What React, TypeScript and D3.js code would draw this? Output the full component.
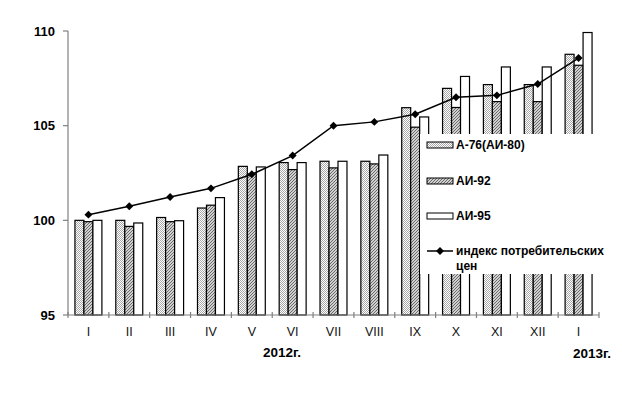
import * as React from 'react';
import * as d3 from 'd3';

const months = ['I', 'II', 'III', 'IV', 'V', 'VI', 'VII', 'VIII', 'IX', 'X', 'XI', 'XII', 'I'];
const a76 = [100.0, 100.0, 100.15, 100.65, 102.85, 103.05, 103.12, 103.12, 105.95, 106.97, 107.17, 107.17, 108.77];
const ai92 = [99.93, 99.68, 99.93, 100.8, 102.45, 102.68, 102.77, 102.98, 104.92, 105.96, 106.27, 106.27, 108.19];
const ai95 = [100.0, 99.86, 99.98, 101.2, 102.82, 103.05, 103.12, 103.45, 105.46, 107.6, 108.1, 108.1, 109.92];
const cpi = [100.3, 100.74, 101.23, 101.69, 102.43, 103.42, 105.0, 105.2, 105.6, 106.5, 106.6, 107.2, 108.57];
const yTicks = [95, 100, 105, 110];
const seriesNames = ['А-76(АИ-80)', 'АИ-92', 'АИ-95'];
const cpiName = ['индекс потребительских', 'цен'];

const font = 'Arial, "Liberation Sans", sans-serif';
const fills = ['url(#pat76)', 'url(#pat92)', '#ffffff'];

export default function App() {
    const left = 68, right = 599, top = 31, bottom = 315;
    const idx = months.map((_, i) => i);

    const x = d3.scaleBand<number>().domain(idx).range([left, right]).paddingInner(0.34).paddingOuter(0.17);
    const xs = d3.scaleBand<number>().domain([0, 1, 2]).range([0, x.bandwidth()]);
    const y = d3.scaleLinear().domain([95, 110]).range([bottom, top]);
    const step = x.step();
    const bounds = d3.range(months.length + 1).map(i => left + i * step);

    const series = [a76, ai92, ai95];
    const line = d3.line<number>()
        .x((_, i) => (x(i) || 0) + x.bandwidth() / 2)
        .y(v => y(v));

    const diamond = d3.symbol().type(d3.symbolDiamond2).size(40)() || '';
    const legX = 427;
    const legY = [145, 181, 216, 251];

    return (
        <svg width={622} height={410} style={{ position: 'absolute', left: 0, top: 0, background: '#fff' }}>
            <defs>
                <pattern id="pat76" width={2} height={2} patternUnits="userSpaceOnUse">
                    <rect width={2} height={2} fill="#ffffff" />
                    <rect width={1} height={1} fill="#a8a8a8" />
                    <rect x={1} y={1} width={1} height={1} fill="#a8a8a8" />
                </pattern>
                <pattern id="pat92" width={3} height={3} patternUnits="userSpaceOnUse">
                    <rect width={3} height={3} fill="#d0d0d0" />
                    <path d="M0,3 L3,0 M-1,1 L1,-1 M2,4 L4,2" stroke="#6a6a6a" strokeWidth={1} />
                </pattern>
            </defs>

            {series.map((s, si) => (
                <g key={si}>
                    {s.map((v, i) => (
                        <rect key={i}
                            x={(x(i) || 0) + (xs(si) || 0)}
                            y={y(v)}
                            width={xs.bandwidth()}
                            height={bottom - y(v)}
                            fill={fills[si]}
                            stroke="#000"
                            strokeWidth={1.2} />
                    ))}
                </g>
            ))}

            {/* axes */}
            <line x1={left} x2={left} y1={top} y2={bottom} stroke="#808080" strokeWidth={1.2} />
            <line x1={left} x2={right} y1={bottom} y2={bottom} stroke="#808080" strokeWidth={1.2} />
            {yTicks.map(t => (
                <g key={t}>
                    <line x1={left - 5} x2={left} y1={y(t)} y2={y(t)} stroke="#808080" strokeWidth={1.2} />
                    <text x={left - 13} y={y(t)} dy="0.36em" textAnchor="end" fontFamily={font}
                        fontWeight="bold" fontSize={13} fill="#000">{t}</text>
                </g>
            ))}
            {bounds.map((b, i) => (
                <line key={i} x1={b} x2={b} y1={bottom - 3} y2={bottom + 3} stroke="#808080" strokeWidth={1.2} />
            ))}
            {months.map((m, i) => (
                <text key={i} x={(x(i) || 0) + x.bandwidth() / 2} y={331} dy="0.36em" textAnchor="middle"
                    fontFamily={font} fontSize={12.5} fill="#111">{m}</text>
            ))}
            <text x={282} y={352} dy="0.36em" textAnchor="middle" fontFamily={font} fontWeight="bold" fontSize={13.5}>2012г.</text>
            <text x={592} y={353} dy="0.36em" textAnchor="middle" fontFamily={font} fontWeight="bold" fontSize={13.5}>2013г.</text>

            {/* CPI line */}
            <path d={line(cpi) || undefined} fill="none" stroke="#000" strokeWidth={1.5} />
            {cpi.map((v, i) => (
                <path key={i} d={diamond} fill="#000"
                    transform={`translate(${(x(i) || 0) + x.bandwidth() / 2},${y(v)})`} />
            ))}

            {/* legend */}
            <rect x={420} y={134} width={194} height={140} fill="#fff" />
            {seriesNames.map((n, i) => (
                <g key={n}>
                    <rect x={legX} y={legY[i] - 3} width={26} height={6} fill={fills[i]} stroke="#000" strokeWidth={1} />
                    <text x={legX + 29} y={legY[i]} dy="0.36em" fontFamily={font} fontWeight="bold" fontSize={12}>{n}</text>
                </g>
            ))}
            <line x1={legX} x2={legX + 26} y1={legY[3]} y2={legY[3]} stroke="#000" strokeWidth={1.5} />
            <path d={diamond} fill="#000" transform={`translate(${legX + 13},${legY[3]})`} />
            <text x={legX + 29} y={legY[3]} dy="0.36em" fontFamily={font} fontWeight="bold" fontSize={12}>{cpiName[0]}</text>
            <text x={legX + 29} y={legY[3] + 15} dy="0.36em" fontFamily={font} fontWeight="bold" fontSize={12}>{cpiName[1]}</text>
        </svg>
    );
}
